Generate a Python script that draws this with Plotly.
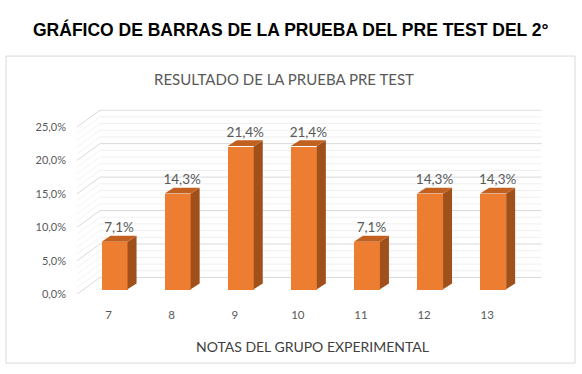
import plotly.graph_objects as go

# ---------------- data ----------------
categories = [7, 8, 9, 10, 11, 12, 13]
values = [0.071, 0.143, 0.214, 0.214, 0.071, 0.143, 0.143]
y_ticks = [0.0, 0.05, 0.10, 0.15, 0.20, 0.25]

main_title = "GRÁFICO DE BARRAS DE LA PRUEBA DEL PRE TEST DEL 2°"
chart_title = "RESULTADO DE LA PRUEBA PRE TEST"
x_title = "NOTAS DEL GRUPO EXPERIMENTAL"

# ---------------- geometry / style ----------------
W, H = 582, 374
PX_PER_X = 63.1          # pixels per category unit
PX_PER_Y = 680.0         # pixels per 1.0 (100 %)
X0_PX, Y0_PX = 77, 299   # front-left corner of floor (pixels)
X_MIN, X_MAX = 6.5, 13.9
Y_MIN, Y_MAX = 0.0, 0.276

# depth of back wall (data units)
WALL_DX = 23 / PX_PER_X
WALL_DY = 17 / PX_PER_Y
# bar front face offset and bar side depth
BAR_DX = 6 / PX_PER_X
BAR_DY = 5 / PX_PER_Y
SIDE_DX = 9 / PX_PER_X
SIDE_DY = 6 / PX_PER_Y
BAR_W = 26 / PX_PER_X

FRONT = "#ED7D31"
SIDE = "#A0501B"
TOP = "#C2601F"
TXT = "#595959"
FONT_C = "Lato, Carlito, Calibri, sans-serif"

x_dom = [X0_PX / W, (X0_PX + (X_MAX - X_MIN) * PX_PER_X) / W]
y_dom = [1 - Y0_PX / H, 1 - (Y0_PX - (Y_MAX - Y_MIN) * PX_PER_Y) / H]

fig = go.Figure()

# front faces
fig.add_trace(go.Bar(
    x=categories, y=values, base=BAR_DY, width=BAR_W,
    offset=-BAR_W / 2 + BAR_DX,
    marker=dict(color=FRONT, line=dict(width=0)),
    hoverinfo="skip", showlegend=False,
))

# side and top faces
for c, v in zip(categories, values):
    xl = c - BAR_W / 2 + BAR_DX
    xr = c + BAR_W / 2 + BAR_DX
    b = BAR_DY
    t = BAR_DY + v
    fig.add_trace(go.Scatter(
        x=[xr, xr + SIDE_DX, xr + SIDE_DX, xr, xr],
        y=[b, b + SIDE_DY, t + SIDE_DY, t, b],
        fill="toself", fillcolor=SIDE, mode="lines",
        line=dict(width=0, color=SIDE), hoverinfo="skip", showlegend=False))
    fig.add_trace(go.Scatter(
        x=[xl, xr, xr + SIDE_DX, xl + SIDE_DX, xl],
        y=[t, t, t + SIDE_DY, t + SIDE_DY, t],
        fill="toself", fillcolor=TOP, mode="lines",
        line=dict(width=0, color=TOP), hoverinfo="skip", showlegend=False))

# data labels
fig.add_trace(go.Scatter(
    x=[c + BAR_DX + SIDE_DX / 2 for c in categories],
    y=[BAR_DY + v + SIDE_DY for v in values],
    mode="text",
    text=[f"{v*100:.1f}%".replace(".", ",") for v in values],
    textposition="top center",
    textfont=dict(family=FONT_C, size=13.5, color=TXT),
    hoverinfo="skip", showlegend=False, cliponaxis=False))

# gridlines (back wall + left wall), drawn below traces
shapes = []
minor = [i / 100 for i in range(0, 26)]
for m in minor:
    if any(abs(m - t) < 1e-9 for t in y_ticks):
        continue
    shapes.append(dict(type="line", xref="x", yref="y", layer="below",
                       x0=X_MIN + WALL_DX, x1=13.5 + WALL_DX,
                       y0=m + WALL_DY, y1=m + WALL_DY,
                       line=dict(color="#EFEFEF", width=1)))
    shapes.append(dict(type="line", xref="x", yref="y", layer="below",
                       x0=X_MIN, x1=X_MIN + WALL_DX, y0=m, y1=m + WALL_DY,
                       line=dict(color="#F2F2F2", width=1)))
for t in y_ticks:
    shapes.append(dict(type="line", xref="x", yref="y", layer="below",
                       x0=X_MIN + WALL_DX, x1=13.5 + WALL_DX,
                       y0=t + WALL_DY, y1=t + WALL_DY,
                       line=dict(color="#D9D9D9", width=1)))
    shapes.append(dict(type="line", xref="x", yref="y", layer="below",
                       x0=X_MIN, x1=X_MIN + WALL_DX, y0=t, y1=t + WALL_DY,
                       line=dict(color="#D9D9D9", width=1)))

# chart area border
shapes.append(dict(type="rect", xref="paper", yref="paper", layer="below",
                   x0=6 / W, x1=575 / W, y0=1 - 369 / H, y1=1 - 57 / H,
                   line=dict(color="#D9D9D9", width=1), fillcolor="rgba(0,0,0,0)"))

annotations = [
    dict(text=f"<b>{main_title}</b>", xref="paper", yref="paper",
         x=291 / W, y=1 - 30 / H, xanchor="center", yanchor="middle",
         showarrow=False, font=dict(family="Liberation Sans, Arial", size=17.5, color="#000000")),
    dict(text=chart_title, xref="paper", yref="paper",
         x=284 / W, y=1 - 80 / H, xanchor="center", yanchor="middle",
         showarrow=False, font=dict(family=FONT_C, size=15, color=TXT)),
    dict(text=x_title, xref="paper", yref="paper",
         x=312 / W, y=1 - 352 / H, xanchor="center", yanchor="middle",
         showarrow=False, font=dict(family=FONT_C, size=14, color="#404040")),
]

fig.update_layout(
    width=W, height=H,
    margin=dict(l=0, r=0, t=0, b=0),
    paper_bgcolor="white", plot_bgcolor="rgba(0,0,0,0)",
    separators=",.",
    shapes=shapes, annotations=annotations,
    bargap=0,
    xaxis=dict(domain=x_dom, range=[X_MIN, X_MAX], tickmode="array",
               tickvals=categories, ticktext=[str(c) for c in categories],
               showgrid=False, zeroline=False, showline=False, ticks="",
               ticklabelstandoff=12,
               tickfont=dict(family=FONT_C, size=11.5, color=TXT), fixedrange=True),
    yaxis=dict(domain=y_dom, range=[Y_MIN, Y_MAX], tickmode="array",
               tickvals=y_ticks, tickformat=".1%",
               showgrid=False, zeroline=False, showline=False, ticks="",
               ticklabelstandoff=10,
               tickfont=dict(family=FONT_C, size=11, color=TXT), fixedrange=True),
)

fig.write_html("out.html")
